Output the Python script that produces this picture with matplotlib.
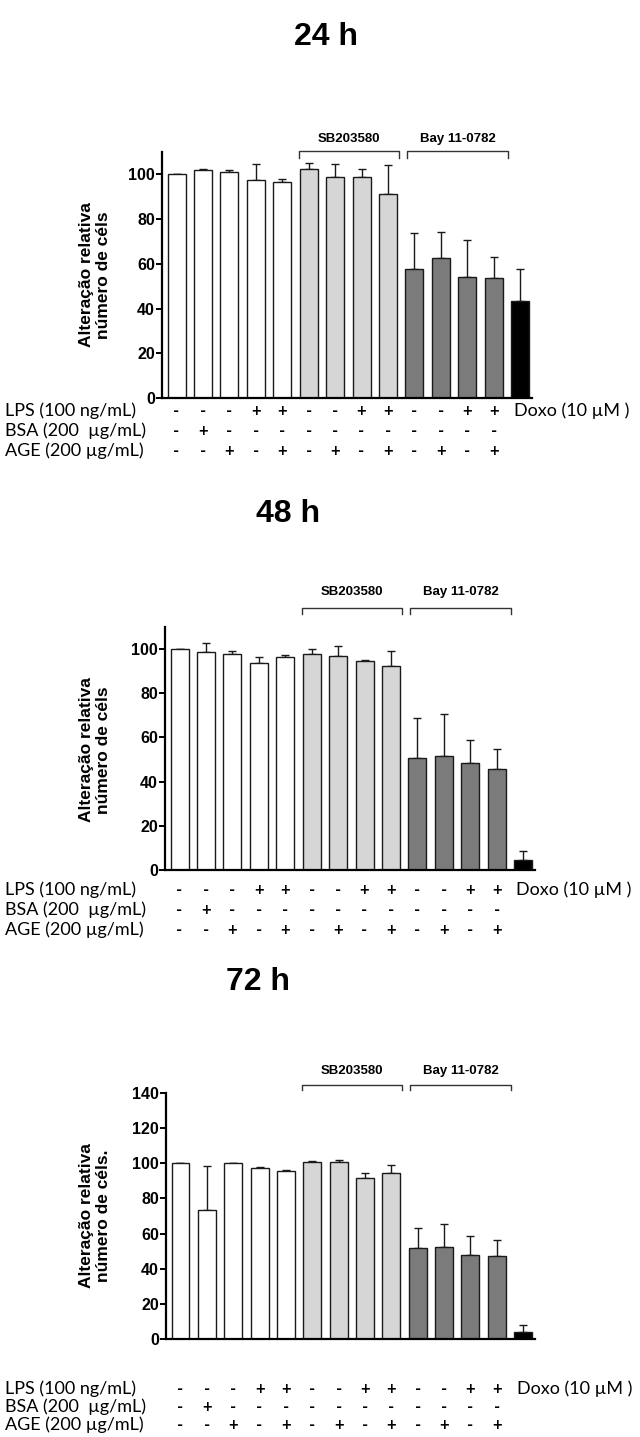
import matplotlib
matplotlib.use("Agg")
import matplotlib.pyplot as plt
import matplotlib.transforms as mtransforms
import numpy as np

# bar values (% of control)
vals_24 = [100, 102, 101, 97.3, 96.5, 102.3, 98.8, 98.8, 91.3, 57.6, 62.7, 54.1, 53.7, 43.3]
err_24 = [0.3, 0.5, 1.0, 7.5, 1.5, 2.7, 6.0, 3.8, 13.0, 16.4, 11.7, 16.6, 9.5, 14.3]
vals_48 = [100, 98.5, 97.7, 93.7, 96.5, 97.6, 97.0, 94.7, 92.4, 50.9, 51.4, 48.3, 45.9, 4.5]
err_48 = [0.2, 4.2, 1.5, 2.7, 0.6, 2.4, 4.5, 0.3, 6.7, 17.8, 19.3, 10.4, 9.1, 4.1]
vals_72 = [100, 73.5, 100, 97.5, 95.6, 100.8, 100.6, 91.8, 94.3, 51.8, 52.4, 48.0, 47.0, 4.0]
err_72 = [0.2, 25.0, 0.0, 0.2, 0.5, 0.5, 1.2, 2.5, 4.6, 11.4, 13.3, 10.9, 9.2, 4.0]

colors = ["white"] * 5 + ["#d6d6d6"] * 4 + ["#7b7b7b"] * 4 + ["black"]

lps = ["-", "-", "-", "+", "+", "-", "-", "+", "+", "-", "-", "+", "+"]
bsa = ["-", "+", "-", "-", "-", "-", "-", "-", "-", "-", "-", "-", "-"]
age = ["-", "-", "+", "-", "+", "-", "+", "-", "+", "-", "+", "-", "+"]
row_labels = ["LPS (100 ng/mL)", "BSA (200  µg/mL)", "AGE (200 µg/mL)"]

W, H = 640, 1437
fig = plt.figure(figsize=(W / 100, H / 100), dpi=100)

# panel geometry in pixels
panels = [
    dict(vals=vals_24, err=err_24, title="24 h", left=162, right=532, y0=398, ytop=152, ymax=110,
         ticks=range(0, 101, 20), tpos=(326, 37), ylab_y=275, rows=(411, 431, 451),
         br=110.3, brt=115.8, ylab="Alteração relativa\nnúmero de céls"),
    dict(vals=vals_48, err=err_48, title="48 h", left=165, right=535, y0=870, ytop=627, ymax=110,
         ticks=range(0, 101, 20), tpos=(288, 514), ylab_y=750, rows=(890, 910, 930),
         br=118.7, brt=126.0, ylab="Alteração relativa\nnúmero de céls"),
    dict(vals=vals_72, err=err_72, title="72 h", left=166, right=535, y0=1339, ytop=1093, ymax=140,
         ticks=range(0, 141, 20), tpos=(258, 982), ylab_y=1216, rows=(1389, 1407, 1425),
         br=144.6, brt=152.6, ylab="Alteração relativa\nnúmero de céls."),
]

x = np.arange(14)
for p in panels:
    ax = fig.add_axes([p["left"] / W, 1 - p["y0"] / H,
                       (p["right"] - p["left"]) / W, (p["y0"] - p["ytop"]) / H])
    ax.bar(x, p["vals"], width=0.68, color=colors, edgecolor="#1a1a1a", linewidth=1.0, zorder=2)
    ax.errorbar(x, p["vals"], yerr=[np.zeros(14), p["err"]], fmt="none",
                ecolor="#1a1a1a", elinewidth=1.0, capsize=3, capthick=1.0, zorder=1)
    ax.set_xlim(-0.55, 13.45)
    ax.set_ylim(0, p["ymax"])
    ax.set_yticks(list(p["ticks"]))
    ax.set_xticks([])
    for s in ["top", "right"]:
        ax.spines[s].set_visible(False)
    ax.spines["left"].set_linewidth(1.6)
    ax.spines["bottom"].set_linewidth(1.6)
    ax.tick_params(axis="y", direction="out", length=4, width=1.4, pad=1, labelsize=11.5)
    for lab in ax.get_yticklabels():
        lab.set_fontweight("bold")
        lab.set_family("Liberation Sans")

    # brackets for inhibitors
    for (a, b, name) in [(4.62, 8.4, "SB203580"), (8.72, 12.55, "Bay 11-0782")]:
        ax.plot([a, a, b, b], [p["br"] - 3, p["br"], p["br"], p["br"] - 3],
                color="#333333", lw=1.0, clip_on=False)
        ax.text((a + b) / 2, p["brt"], name, ha="center", va="center", fontsize=9.5,
                fontweight="bold", family="Liberation Sans", clip_on=False)

    fig.text(p["tpos"][0] / W, 1 - p["tpos"][1] / H, p["title"], ha="center", va="center",
             fontsize=23, fontweight="bold", family="Liberation Sans")
    fig.text(95 / W, 1 - p["ylab_y"] / H, p["ylab"], rotation=90, ha="center", va="center",
             multialignment="center", fontsize=12.5, fontweight="bold", family="Liberation Sans",
             linespacing=1.1)

    # treatment table
    tr = mtransforms.blended_transform_factory(ax.transData, fig.transFigure)
    for lab, syms, yy in zip(row_labels, [lps, bsa, age], p["rows"]):
        fy = 1 - yy / H
        fig.text(5 / W, fy, lab, ha="left", va="center", fontsize=13, family="Lato")
        for i, s in enumerate(syms):
            ax.text(i, fy, s, transform=tr, ha="center", va="center", fontsize=12,
                    family="Lato", fontweight="bold", clip_on=False)
    ax.text(12.75, 1 - p["rows"][0] / H, "Doxo (10 µM )", transform=tr, ha="left", va="center",
            fontsize=13, family="Lato", clip_on=False)

fig.savefig("out.png", dpi=100)
